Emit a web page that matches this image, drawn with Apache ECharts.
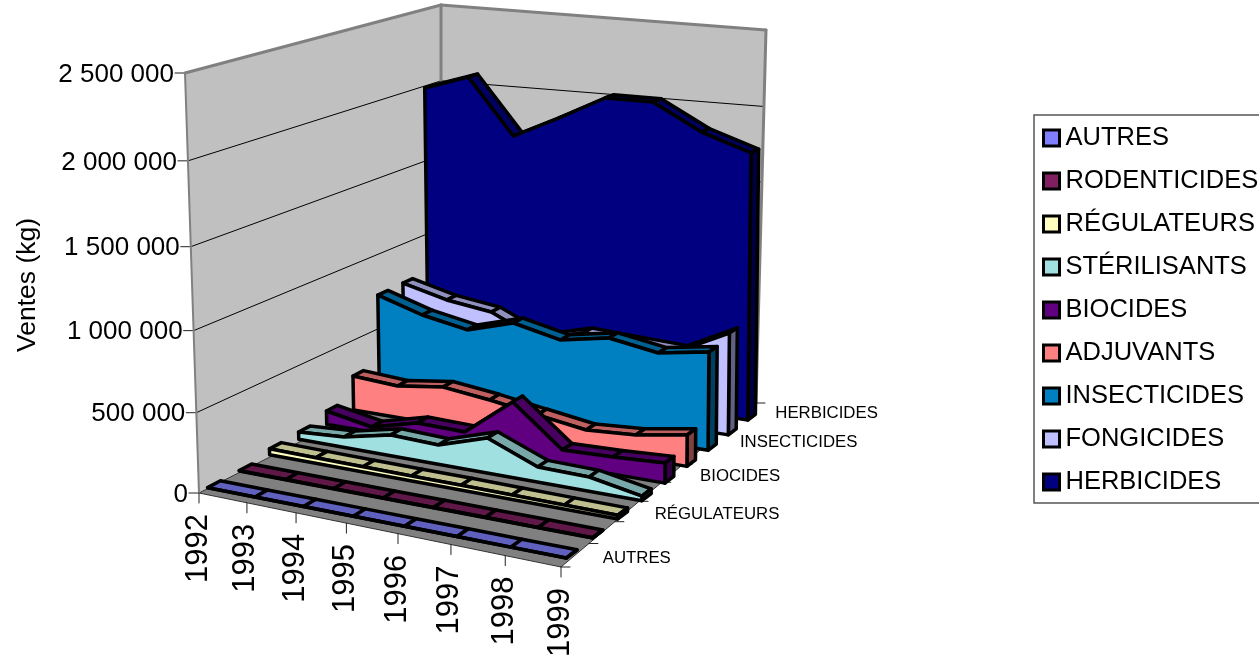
<!DOCTYPE html><html><head><meta charset="utf-8"><script src="https://cdn.jsdelivr.net/npm/echarts@6/dist/echarts.min.js"></script></head><body style="margin:0;background:#fff"><div id="c" style="width:1259px;height:658px"></div>
<script>
var years=['1992','1993','1994','1995','1996','1997','1998','1999'];
var depthNames=['AUTRES','RODENTICIDES','RÉGULATEURS','STÉRILISANTS','BIOCIDES','ADJUVANTS','INSECTICIDES','FONGICIDES','HERBICIDES'];
var valueTicks=[0,500000,1000000,1500000,2000000,2500000];
var valueLabels=['0','500 000','1 000 000','1 500 000','2 000 000','2 500 000'];
var autres=[1000,1000,1000,1000,1000,1000,1000,1000];
var rodenticides=[2000,2000,2000,2000,2000,2000,2000,2000];
var regulateurs=[38000,35000,33000,31000,30000,27000,24000,22000];
var sterilisants=[47000,67000,133000,122000,219000,93000,87000,28000];
var biocides=[89000,34000,112000,106000,348000,97000,107000,124000];
var adjuvants=[231000,212000,253000,217000,170000,124000,145000,197000];
var insecticides=[695000,602000,545000,635000,567000,625000,574000,626000];
var fongicides=[699000,623000,583000,443000,528000,513000,500000,661000];
var herbicides=[1981000,2081000,1708000,1857000,2017000,2017000,1850000,1745000];
var values=[autres,rodenticides,regulateurs,sterilisants,biocides,adjuvants,insecticides,fongicides,herbicides];
var colors=['#8080FF','#802060','#FFFFC0','#A0E0E0','#600080','#FF8080','#0080C0','#C0C0FF','#000080'];
var gap=0.3;
function linsolve(M){var n=M.length;for(var i=0;i<n;i++){var p=i;for(var r=i+1;r<n;r++)if(Math.abs(M[r][i])>Math.abs(M[p][i]))p=r;var t=M[i];M[i]=M[p];M[p]=t;for(r=0;r<n;r++)if(r!=i){var f=M[r][i]/M[i][i];for(var j=i;j<=n;j++)M[r][j]-=f*M[i][j];}}return M.map(function(r,i){return r[n]/r[i];});}
function lsq(A,b){var n=A[0].length,M=[];for(var i=0;i<n;i++){M[i]=[];for(var j=0;j<n;j++){var s=0;for(var k=0;k<A.length;k++)s+=A[k][i]*A[k][j];M[i][j]=s;}var t=0;for(k=0;k<A.length;k++)t+=A[k][i]*b[k];M[i][n]=t;}return linsolve(M);}
var g=gap,h=1-gap;
var calib=[[0,0,2.5,185,73],[0,9,2.5,441,5],[7,9,2.5,766,30],
[0,g,0,209,488],[7,g,0,563,560],[0,h,0,218,482],[7,h,0,577,552],
[0,1+g,0,241,469],[7,1+g,0,592,537],[0,1+h,0,250,463],[7,1+h,0,603,530],
[0,2+g,.02,270,450],[7,2+g,.02,623,513],[0,2+h,.02,280,442],[7,2+h,.02,630,508],
[0,8+g,1.99,425,88],[7,8+g,1.74,750,153],[0,6+g,.72,378,295],[7,6+g,.62,707,352],[0,3+g,.075,299,432],[7,3+g,.03,641,497]];
var A=[],b=[];calib.forEach(function(c){var X=c[0],Z=c[1],Y=c[2],u=c[3],v=c[4];A.push([X,Y,Z,1,0,0,0,0,-u*X,-u*Y,-u*Z]);b.push(u);A.push([0,0,0,0,X,Y,Z,1,-v*X,-v*Y,-v*Z]);b.push(v);});
var P=lsq(A,b);
function proj(X,Y,Z){var w=P[8]*X+P[9]*Y+P[10]*Z+1;return [(P[0]*X+P[1]*Y+P[2]*Z+P[3])/w,(P[4]*X+P[5]*Y+P[6]*Z+P[7])/w];}
function homography(q){var A=[],b=[],uv=[[0,0],[1,0],[1,1],[0,1]];q.forEach(function(c,i){var s=uv[i][0],t=uv[i][1];A.push([s,t,1,0,0,0,-c[0]*s,-c[0]*t]);b.push(c[0]);A.push([0,0,0,s,t,1,-c[1]*s,-c[1]*t]);b.push(c[1]);});var H=lsq(A,b);return function(s,t){var w=H[6]*s+H[7]*t+1;return [(H[0]*s+H[1]*t+H[2])/w,(H[3]*s+H[4]*t+H[5])/w];};}
var floorC=[[199,493],[561,567],[756,403],[441,370]];
var leftC=[[199,493],[441,370],[441,5],[185,73]];
var backC=[[441,370],[756,403],[766,30],[441,5]];
var floorH=homography(floorC),leftH=homography(leftC),backH=homography(backC);
function frontEdge(s){var a=0.9157,f=s*a/(1+s*(a-1));return [floorC[0][0]+f*(floorC[1][0]-floorC[0][0]),floorC[0][1]+f*(floorC[1][1]-floorC[0][1])];}
var FONT='"Liberation Sans",Arial,sans-serif';
function poly(pts,fill,stroke,lw){return {type:'polygon',shape:{points:pts},style:{fill:fill,stroke:stroke,lineWidth:lw,lineJoin:'round'}};}
function line(a,b,c,lw){return {type:'line',shape:{x1:a[0],y1:a[1],x2:b[0],y2:b[1]},style:{stroke:c,lineWidth:lw,lineCap:'round'}};}
function txt(x,y,s,size,al,rot){return {type:'text',x:x,y:y,rotation:rot||0,style:{text:s,fontSize:size,fontFamily:FONT,fill:'#000',align:al,verticalAlign:'middle'}};}
function shade(hex,f){var n=parseInt(hex.slice(1),16);return 'rgb('+Math.round((n>>16&255)*f)+','+Math.round((n>>8&255)*f)+','+Math.round((n&255)*f)+')';}
function frameItem(params,api){
  if(params.dataIndex)return null;
  var cs=params.coordSys,ch=[];
  function frac(v){return (cs.y+cs.height-api.coord([0,v])[1])/cs.height;}
  ch.push(poly(leftC,'#C0C0C0',null,0),poly(backC,'#C0C0C0',null,0),poly(floorC,'#808080','#333',1));
  valueTicks.forEach(function(v,i){var t=frac(v),a=leftH(0,t),c=leftH(1,t),d=backH(1,t);
    if(i>0&&i<5){ch.push(line(a,c,'#000',1),line(c,d,'#000',1));}
    ch.push(line([a[0]-10,a[1]],a,'#222',1));
    ch.push(txt(a[0]-11,a[1]+1.5,valueLabels[i],26,'right'));});
  var gr='#808080';
  ch.push(line(leftC[3],leftC[2],gr,3),line(leftC[2],backC[2],gr,3),line(leftC[2],leftC[1],gr,3),line(backC[2],backC[1],gr,3),line(leftC[3],leftC[0],gr,2));
  years.forEach(function(y,i){var p=frontEdge(i/7);ch.push(line(p,[p[0],p[1]+10],'#222',1));ch.push(txt(p[0]-1,p[1]+21,y,31,'right',Math.PI/2));});
  for(var z=0;z<=9;z++){var p=floorH(1,z/9);ch.push(line(p,[p[0]+9,p[1]],'#222',1));}
  depthNames.forEach(function(n,i){if(i%2)return;var p=floorH(1,(i+.5)/9);ch.push(txt(p[0]+27.5,p[1]+3,n,16.8,'left'));});
  ch.push(txt(28,285,'Ventes (kg)',26.5,'center',Math.PI/2));
  return {type:'group',children:ch};
}
function areaItem(si){return function(params,api){
  if(params.dataIndex)return null;
  var cs=params.coordSys,c=colors[si],z0=si+gap,z1=si+1-gap,n=years.length,f=[],bk=[],ch=[];
  for(var k=0;k<n;k++){var q=api.coord([api.value(0,k),api.value(1,k)]);var X=(q[0]-cs.x)/cs.width*(n-1),Y=(cs.y+cs.height-q[1])/cs.height*2.5;f.push(proj(X,Y,z0));bk.push(proj(X,Y,z1));}
  for(k=0;k<n-1;k++)ch.push(poly([f[k],f[k+1],bk[k+1],bk[k]],shade(c,.75),'#000',3.5));
  var bf=proj(n-1,0,z0),bb=proj(n-1,0,z1),lf=proj(0,0,z0);
  ch.push(poly([f[n-1],bk[n-1],bb,bf],shade(c,.5),'#000',3.5));
  ch.push(poly([lf].concat(f,[bf]),c,'#000',3.5));
  return {type:'group',children:ch};
};}
var series=[{type:'custom',name:'frame',silent:true,data:[[0,0]],renderItem:frameItem,encode:{x:0,y:1}}];
for(var si=8;si>=0;si--){series.push({type:'custom',name:depthNames[si],silent:true,itemStyle:{color:colors[si]},data:values[si].map(function(v,k){return [k,v];}),encode:{x:0,y:1},renderItem:areaItem(si)});}
var chart=echarts.init(document.getElementById('c'));
chart.setOption({animation:false,backgroundColor:'#fff',
 grid:{left:100,top:60,width:600,height:450,show:false},
 xAxis:{type:'category',data:years,boundaryGap:false,show:false},
 yAxis:{type:'value',min:0,max:2500000,interval:500000,show:false},
 legend:{orient:'vertical',left:1034,top:115,padding:[10,60,8,8],itemGap:17,itemWidth:16,itemHeight:16,borderColor:'#555',borderWidth:1.5,backgroundColor:'#fff',icon:'rect',selectedMode:false,
  textStyle:{fontSize:25.5,fontFamily:FONT,color:'#000',padding:[0,0,0,1]},
  data:depthNames.map(function(n,i){return {name:n,itemStyle:{color:colors[i],borderColor:'#000',borderWidth:3}};})},
 series:series});
</script></body></html>
